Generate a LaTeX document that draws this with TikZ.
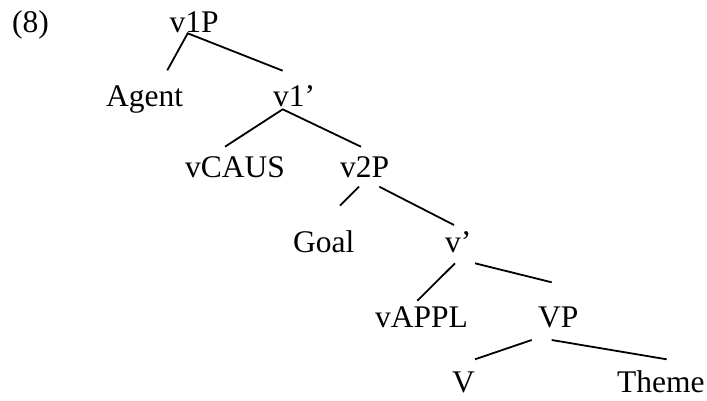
\documentclass[tikz,border=0pt]{standalone}
\usepackage{fontspec}
\setmainfont{Liberation Serif}
\begin{document}
\begin{tikzpicture}[x=1pt,y=-1pt,
  lbl/.style={anchor=base west,inner sep=0pt,font=\fontsize{31.5}{36}\selectfont},
  branch/.style={line width=1.8pt}]
\useasboundingbox (0,0) rectangle (707,400);
% labels
\node[lbl] (ex) at (12,32) {(8)};
\node[lbl] (v1P) at (169.5,32) {v1P};
\node[lbl] (agent) at (106,106) {Agent};
\node[lbl] (v1bar) at (273,106) {v1’};
\node[lbl] (vcaus) at (185,177) {vCAUS};
\node[lbl] (v2P) at (340,177) {v2P};
\node[lbl] (goal) at (293,252) {Goal};
\node[lbl] (vbar) at (445,252) {v’};
\node[lbl] (vappl) at (375,327) {vAPPL};
\node[lbl] (VP) at (538,327) {VP};
\node[lbl] (V) at (452,392) {V};
\node[lbl] (theme) at (617,392) {Theme};
% branch end points
\coordinate (a0) at (187.7,33.3);
\coordinate (a1) at (167.3,70.3);
\coordinate (a2) at (282.7,70.7);
\coordinate (b0) at (282.7,109.3);
\coordinate (b1) at (225,146.7);
\coordinate (b2) at (361,146.7);
\coordinate (c0) at (359,186.7);
\coordinate (c1) at (340,205.7);
\coordinate (c2) at (379.3,186.7);
\coordinate (c3) at (454,225);
\coordinate (d0) at (455,263.3);
\coordinate (d1) at (417.3,300.7);
\coordinate (d2) at (475,263.3);
\coordinate (d3) at (551.7,282.3);
\coordinate (e0) at (531.7,340);
\coordinate (e1) at (475,359.3);
\coordinate (e2) at (551.7,340);
\coordinate (e3) at (666.7,359.3);
\draw[branch] (a1) -- (a0) -- (a2);
\draw[branch] (b1) -- (b0) -- (b2);
\draw[branch] (c0) -- (c1);
\draw[branch] (c2) -- (c3);
\draw[branch] (d0) -- (d1);
\draw[branch] (d2) -- (d3);
\draw[branch] (e0) -- (e1);
\draw[branch] (e2) -- (e3);
\end{tikzpicture}
\end{document}
